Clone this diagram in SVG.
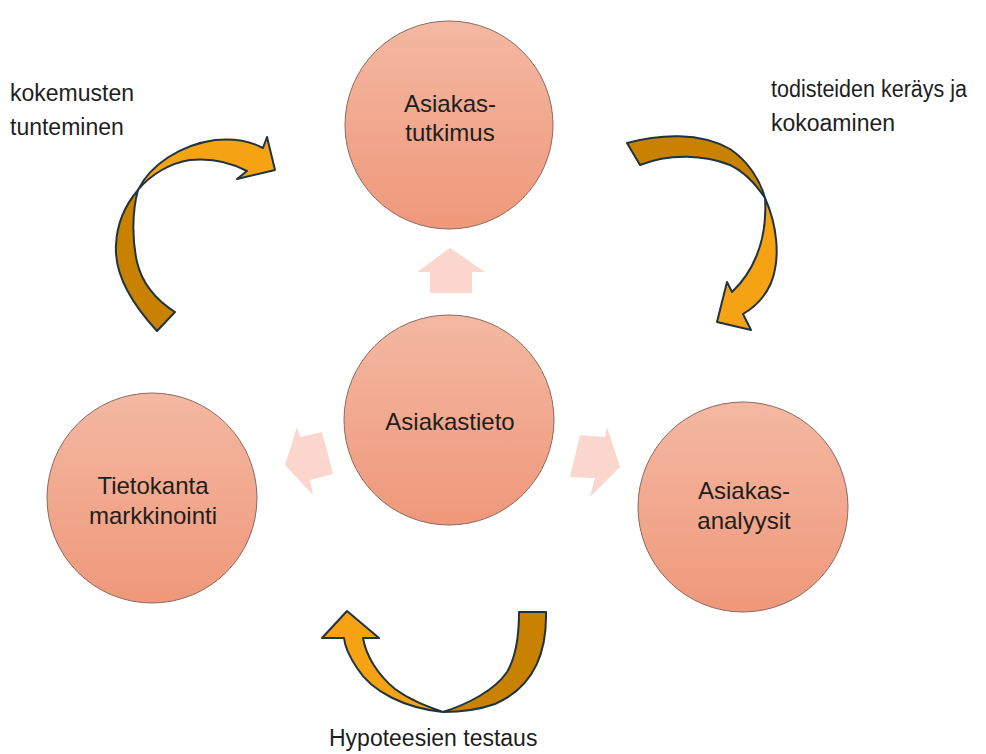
<svg xmlns="http://www.w3.org/2000/svg" width="986" height="754" viewBox="0 0 986 754">
  <defs>
    <linearGradient id="disc" x1="0" y1="0" x2="0" y2="1">
      <stop offset="0" stop-color="#f4b8a2"/>
      <stop offset="1" stop-color="#ef987a"/>
    </linearGradient>
    <style>
      .disc { fill: url(#disc); stroke: #8a6a60; stroke-width: 1; }
      .label { font-family: "Liberation Sans", Arial, sans-serif; font-size: 23px; fill: #1e1e1e; }
      .node-text { font-family: "Liberation Sans", Arial, sans-serif; font-size: 24px; fill: #1e1e1e; text-anchor: middle; }
      .hint { fill: #fad6cc; }
      .front { fill: #f6a313; stroke: #1f3340; stroke-width: 2; stroke-linejoin: round; }
      .back { fill: #c98200; stroke: #1f3340; stroke-width: 2; stroke-linejoin: round; }
    </style>
  </defs>

  <rect width="986" height="754" fill="#ffffff"/>

  <!-- faint block arrows radiating from the centre -->
  <g id="hint-arrows">
    <polygon class="hint" points="450,248 485,272 472,272 472,293 430,293 430,272 417,272"/>
    <polygon class="hint" points="285,465 297,427 300,437 322,432 333,474 310,480 313,495"/>
    <polygon class="hint" points="620,467 590,497 595,478 570,477 580,435 605,437 607,427"/>
  </g>

  <!-- circles -->
  <g id="node-tutkimus">
    <circle class="disc" cx="449" cy="125" r="104"/>
    <text class="node-text" x="450" y="112">Asiakas-</text>
    <text class="node-text" x="450" y="141">tutkimus</text>
  </g>
  <g id="node-tieto">
    <circle class="disc" cx="449" cy="420" r="105"/>
    <text class="node-text" x="450" y="430">Asiakastieto</text>
  </g>
  <g id="node-markkinointi">
    <circle class="disc" cx="152" cy="498" r="105"/>
    <text class="node-text" x="153" y="494">Tietokanta</text>
    <text class="node-text" x="153" y="524">markkinointi</text>
  </g>
  <g id="node-analyysit">
    <circle class="disc" cx="743" cy="507" r="105"/>
    <text class="node-text" x="744" y="499">Asiakas-</text>
    <text class="node-text" x="744" y="529">analyysit</text>
  </g>

  <!-- curved cycle arrows -->
  <g id="connectors">
    <g id="arrow-kokemusten">
      <path class="back" d="M157,331 C133,305 114,275 116,245 C117,222 126,204 138,190 C132,212 132,240 137,262 C142,283 156,300 175,312 Z"/>
      <path class="front" d="M138,190 C150,165 180,145 215,140 C235,138 252,142 263,148 L267,137 L275,170 L237,179 L247,171 C230,162 210,158 190,160 C170,163 150,175 138,190 Z"/>
    </g>
    <g id="arrow-todisteet">
      <path class="back" d="M627,143 C660,134 700,132 730,149 C748,161 760,180 765,198 C755,183 745,172 730,165 C705,155 670,153 640,165 Z"/>
      <path class="front" d="M765,198 C777,225 781,258 771,283 C765,297 755,307 743,314 L751,330 L717,322 L727,282 L732,292 C750,275 768,245 765,198 Z"/>
    </g>
    <g id="arrow-hypoteesit">
      <path class="back" d="M519,612 L546,612 C547,655 532,688 495,704 C478,710 460,712 443,712 C468,704 495,690 507,672 C516,657 519,636 519,612 Z"/>
      <path class="front" d="M443,712 C405,708 372,692 357,668 C349,656 345,648 344,638 L322,638 L347,611 L379,638 L363,638 C366,656 378,675 395,689 C410,700 426,706 443,712 Z"/>
    </g>
  </g>

  <!-- free labels -->
  <g id="labels">
    <text class="label" x="10" y="101">kokemusten</text>
    <text class="label" x="10" y="135">tunteminen</text>
    <text class="label" x="771" y="97" textLength="196" lengthAdjust="spacingAndGlyphs">todisteiden keräys ja</text>
    <text class="label" x="771" y="131">kokoaminen</text>
    <text class="label" x="329" y="746">Hypoteesien testaus</text>
  </g>
</svg>
